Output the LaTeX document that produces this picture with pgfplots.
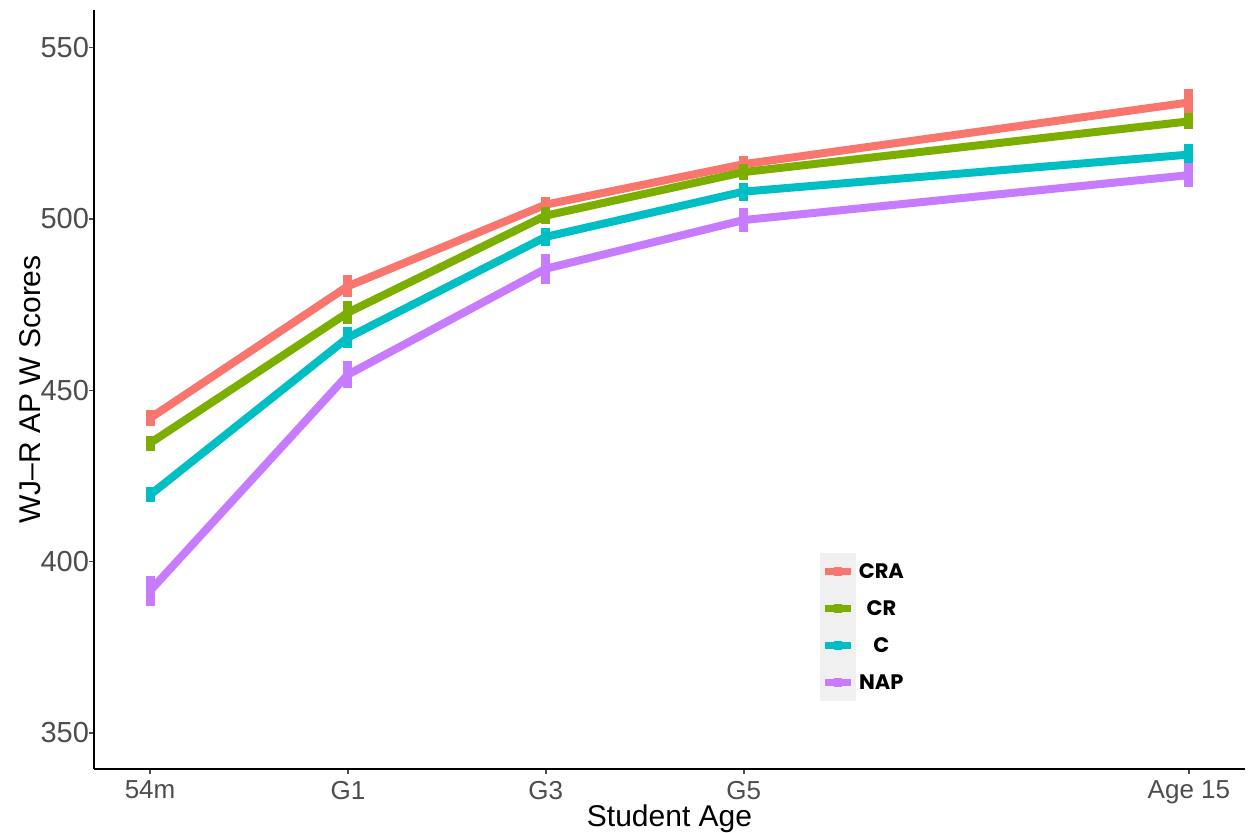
\documentclass[border=0pt]{standalone}
\usepackage{pgfplots}
\pgfplotsset{compat=1.18}
\usepackage{fontspec}
\setmainfont{Liberation Sans}
\newfontfamily\legfont{Poppins}
\definecolor{cra}{HTML}{F8766D}
\definecolor{cr}{HTML}{7CAE00}
\definecolor{cc}{HTML}{00BFC4}
\definecolor{nap}{HTML}{C77CFF}
\definecolor{tickgrey}{HTML}{4D4D4D}

\pgfplotstableread{
x   y      e
54  441.9  2.4
78  480.4  3.2
102 504.2  2.3
126 516.0  2.5
180 534.0  4.0
}\tcra
\pgfplotstableread{
x   y      e
54  434.6  2.2
78  472.7  3.3
102 501.0  2.4
126 513.7  2.3
180 528.5  2.3
}\tcr
\pgfplotstableread{
x   y      e
54  419.5  2.2
78  465.4  3.0
102 494.8  2.6
126 508.0  2.6
180 518.8  3.0
}\tc
\pgfplotstableread{
x   y      e
54  391.5  4.4
78  454.6  4.0
102 485.5  4.4
126 499.7  3.4
180 512.8  3.5
}\tnap

\begin{document}
\begin{tikzpicture}
\useasboundingbox (-47pt,-32pt) rectangle (577pt,384.5pt);
\begin{axis}[
  at={(0,0)}, anchor=south west,
  scale only axis, width=575.5pt, height=379.5pt,
  xmin=47.2, xmax=186.8, ymin=339.5, ymax=561,
  axis lines=left,
  axis line style={-, line width=1pt, black},
  xtick={54,78,102,126,180},
  xticklabels={54m,G1,G3,G5,Age 15},
  ytick={350,400,450,500,550},
  tick align=outside, tick pos=left,
  major tick length=2.5pt,
  tick style={tickgrey, line width=0.8pt},
  /pgf/number format/assume math mode=true,
  xticklabel style={font=\fontsize{13}{15}\selectfont, text=tickgrey},
  yticklabel style={font=\fontsize{14.5}{16}\selectfont, text=tickgrey, xshift=3.5pt},
  xlabel={Student Age},
  ylabel={WJ–R AP W Scores},
  label style={font=\fontsize{15}{18}\selectfont},
  xlabel style={at={(axis description cs:0.5,0)}, anchor=north, yshift=-14.5pt},
  ylabel style={at={(axis description cs:-0.0556,0.5)}, anchor=center, rotate=0},
  legend style={at={(rel axis cs:0.625,0.2905)}, anchor=north west, draw=none, fill=none,
    font=\legfont\bfseries\fontsize{10.5}{12}\selectfont,
    nodes={inner sep=1.5pt, text height=7.4pt, text depth=0pt},
    row sep=0pt},
  legend cell align=center,
  legend image code/.code={
    \fill[black!6] (0pt,-7.25pt) rectangle (14pt,7.25pt);
    \draw[line width=3.8pt] (0.5pt,0pt) -- (13.5pt,0pt);
    \draw[line width=3.8pt] (7pt,-2.2pt) -- (7pt,2.2pt);
  },
  no markers,
  every axis plot/.append style={line width=4pt},
  error bars/error bar style={line width=4.5pt},
]
\addplot[cra, error bars/.cd, y dir=both, y explicit, error mark=none] table[x=x,y=y,y error=e] {\tcra};
\addlegendentry{CRA}
\addplot[cr, error bars/.cd, y dir=both, y explicit, error mark=none] table[x=x,y=y,y error=e] {\tcr};
\addlegendentry{CR}
\addplot[cc, error bars/.cd, y dir=both, y explicit, error mark=none] table[x=x,y=y,y error=e] {\tc};
\addlegendentry{C}
\addplot[nap, error bars/.cd, y dir=both, y explicit, error mark=none] table[x=x,y=y,y error=e] {\tnap};
\addlegendentry{NAP}
\end{axis}
\end{tikzpicture}
\end{document}
